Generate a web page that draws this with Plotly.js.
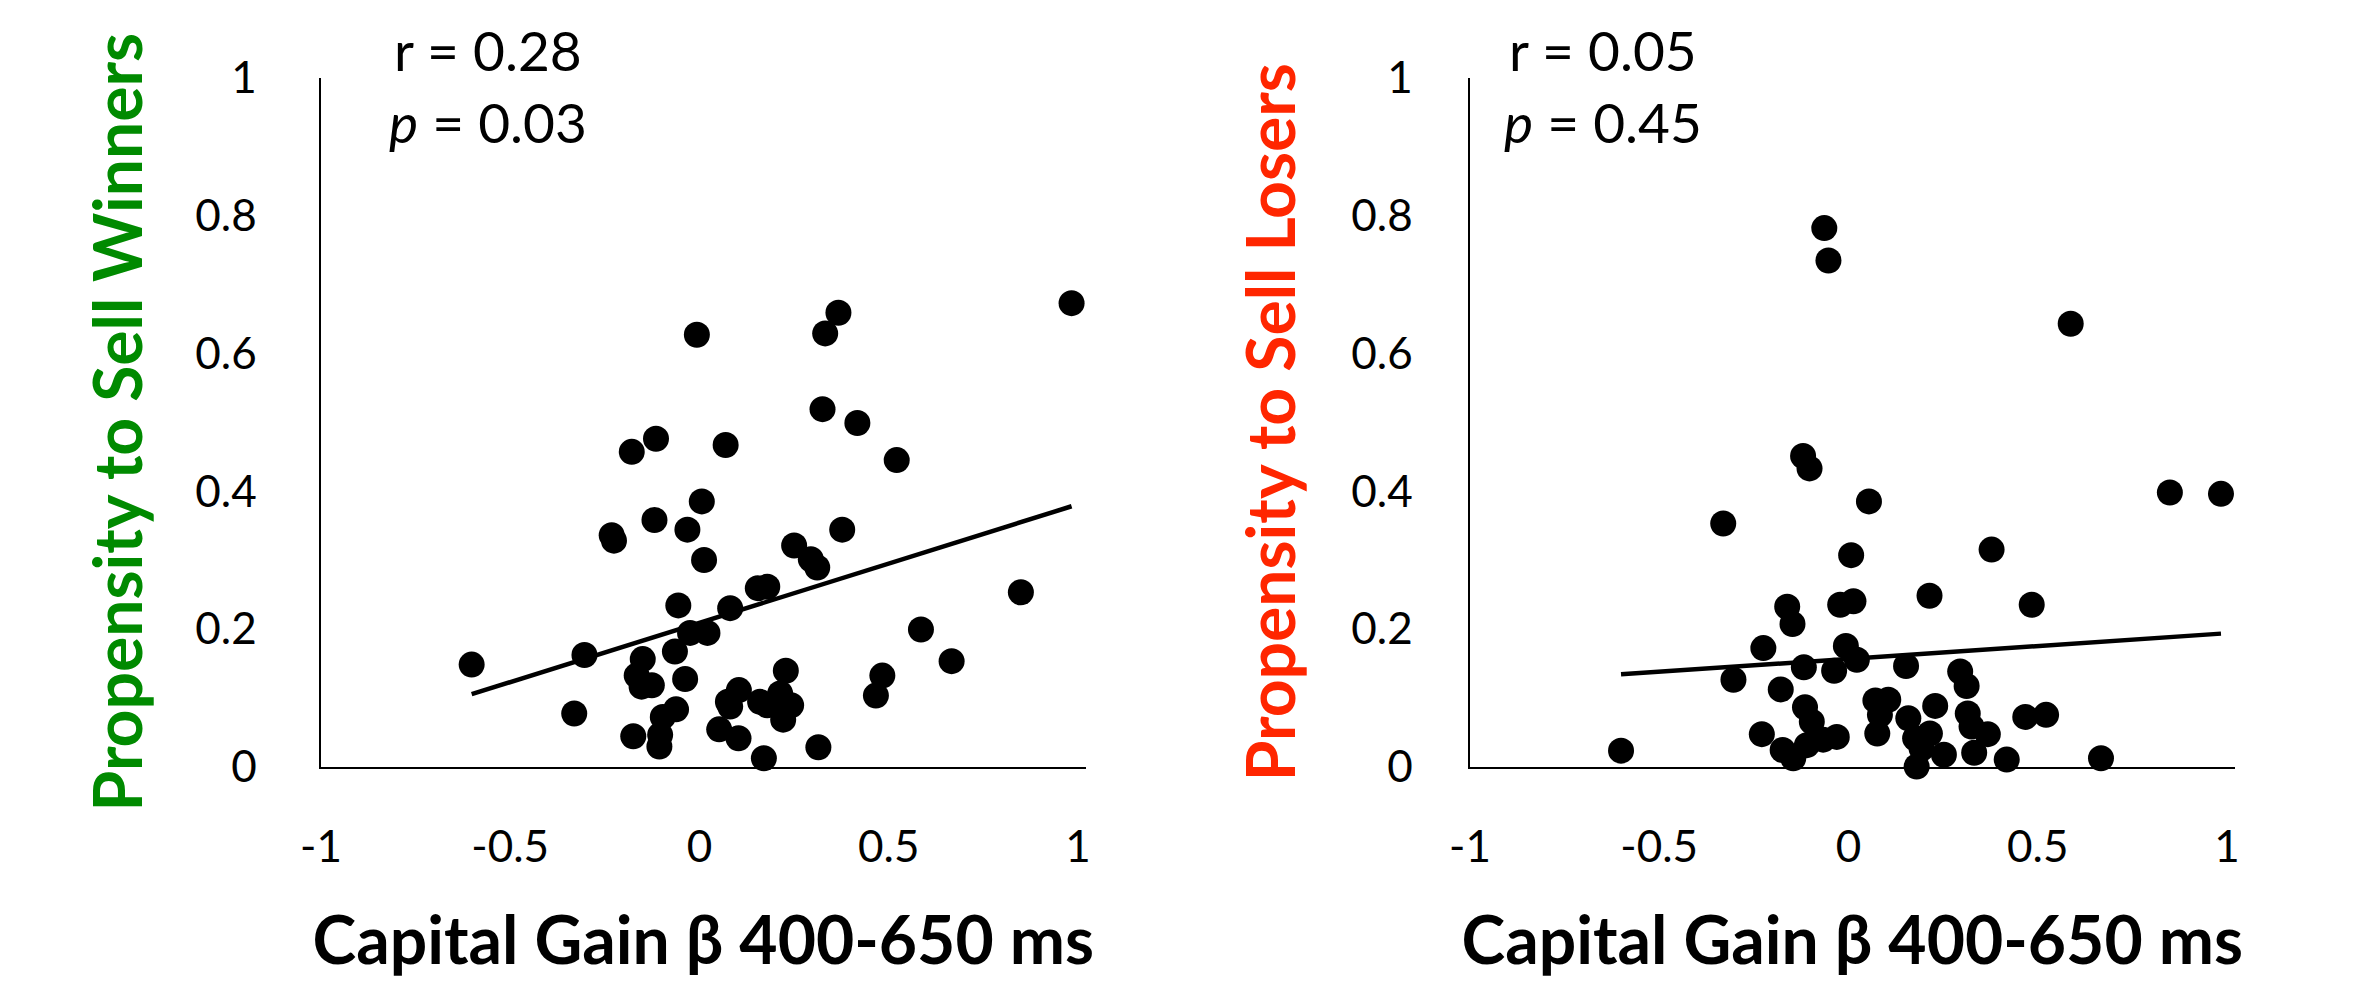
<!DOCTYPE html>
<html><head><meta charset="utf-8">
<script src="https://cdn.plot.ly/plotly-3.0.1.min.js"></script>
<style>html,body{margin:0;padding:0;background:#fff;} #chart{width:2356px;height:991px;}</style>
</head><body><div id="chart"></div>
<script>
// ---- data ----
const winnersX = [-0.007, 0.367, 0.332, 0.983, 0.325, 0.417, 0.069, 0.521, -0.115, -0.179,
  0.006, -0.119, -0.032, -0.232, -0.226, 0.012, 0.377, 0.250, 0.294, 0.311,
  0.154, 0.179, 0.081, 0.849, -0.056, -0.025, 0.021, -0.065, 0.585, 0.666,
  -0.304, -0.602, -0.150, -0.166, -0.126, -0.153, -0.038, -0.331, -0.062, -0.097,
  -0.175, -0.104, -0.106, 0.228, 0.483, 0.466, 0.104, 0.075, 0.081, 0.160,
  0.179, 0.213, 0.242, 0.221, 0.052, 0.103, 0.170, 0.314];
const winnersY = [0.627, 0.659, 0.629, 0.673, 0.519, 0.499, 0.467, 0.445, 0.476, 0.457,
  0.385, 0.358, 0.344, 0.336, 0.328, 0.300, 0.344, 0.321, 0.301, 0.289,
  0.259, 0.261, 0.230, 0.253, 0.234, 0.194, 0.194, 0.167, 0.199, 0.153,
  0.162, 0.148, 0.156, 0.132, 0.118, 0.116, 0.127, 0.077, 0.083, 0.072,
  0.044, 0.046, 0.029, 0.139, 0.132, 0.103, 0.111, 0.094, 0.087, 0.094,
  0.089, 0.106, 0.089, 0.068, 0.054, 0.041, 0.012, 0.028];

const losersX = [-0.064, -0.053, 0.587, -0.120, -0.103, -0.331, 0.054, 0.007, 0.378, 0.849,
  0.984, 0.214, 0.484, -0.162, -0.148, -0.022, 0.013, -0.225, -0.007, 0.022,
  -0.118, -0.038, -0.304, -0.179, 0.152, 0.295, 0.312, -0.115, -0.097, 0.071,
  0.105, 0.083, 0.229, 0.158, 0.315, 0.325, 0.368, 0.467, 0.522, 0.076,
  -0.031, -0.067, -0.110, -0.229, -0.174, -0.146, -0.601, 0.176, 0.215, 0.193,
  0.252, 0.180, 0.332, 0.418, 0.667];
const losersY = [0.782, 0.735, 0.643, 0.451, 0.433, 0.353, 0.385, 0.307, 0.315, 0.398,
  0.396, 0.248, 0.235, 0.232, 0.207, 0.235, 0.240, 0.172, 0.175, 0.155,
  0.144, 0.139, 0.126, 0.112, 0.146, 0.138, 0.117, 0.086, 0.065, 0.096,
  0.097, 0.075, 0.088, 0.070, 0.077, 0.058, 0.047, 0.072, 0.075, 0.048,
  0.043, 0.039, 0.031, 0.047, 0.024, 0.012, 0.023, 0.041, 0.048, 0.026,
  0.017, 0.000, 0.020, 0.010, 0.012];

// regression fits: [intercept, slope]
const winnersFit = [0.2087, 0.1722];
const losersFit = [0.1563, 0.0373];

const xTickVals = [-1, -0.5, 0, 0.5, 1];
const xTickText = ['-1', '-0.5', '0', '0.5', '1'];
const yTickVals = [0, 0.2, 0.4, 0.6, 0.8, 1];
const yTickText = ['0', '0.2', '0.4', '0.6', '0.8', '1'];

const xTitle = 'Capital Gain β 400-650 ms';
const yTitleWinners = 'Propensity to Sell Winners';
const yTitleLosers = 'Propensity to Sell Losers';
const statsWinners = ['r = 0.28', '<i>p</i> = 0.03'];
const statsLosers = ['r = 0.05', '<i>p</i> = 0.45'];

// ---- build ----
function fitLine(xs, fit) {
  const lo = Math.min(...xs), hi = Math.max(...xs);
  return {x: [lo, hi], y: [fit[0] + fit[1] * lo, fit[0] + fit[1] * hi]};
}
const fW = fitLine(winnersX, winnersFit);
const fL = fitLine(losersX, losersFit);

const markerStyle = {color: '#000', size: 26, line: {width: 0}};
const traces = [
  {type: 'scatter', mode: 'lines', x: fW.x, y: fW.y, xaxis: 'x', yaxis: 'y',
   line: {color: '#000', width: 4.5}, hoverinfo: 'skip', cliponaxis: false},
  {type: 'scatter', mode: 'markers', x: winnersX, y: winnersY, xaxis: 'x', yaxis: 'y',
   marker: markerStyle, cliponaxis: false},
  {type: 'scatter', mode: 'lines', x: fL.x, y: fL.y, xaxis: 'x2', yaxis: 'y2',
   line: {color: '#000', width: 4.5}, hoverinfo: 'skip', cliponaxis: false},
  {type: 'scatter', mode: 'markers', x: losersX, y: losersY, xaxis: 'x2', yaxis: 'y2',
   marker: markerStyle, cliponaxis: false}
];

const W = 2356, H = 991;
const tickFont = {family: 'Lato, sans-serif', size: 44, color: '#000'};
const titleFontBase = {family: 'Lato, sans-serif', size: 66, weight: 700};
const statFont = {family: 'Lato, sans-serif', size: 55, color: '#000'};

function xAxis(domain, anchor) {
  return {
    domain: domain, anchor: anchor, range: [-1, 1.02],
    tickmode: 'array', tickvals: xTickVals, ticktext: xTickText,
    showgrid: false, zeroline: false, showline: true, linecolor: '#000', linewidth: 2.5,
    ticks: 'outside', ticklen: 40, tickcolor: 'rgba(0,0,0,0)', tickfont: tickFont,
    title: {text: xTitle, font: Object.assign({color: '#000'}, titleFontBase), standoff: 48},
    fixedrange: true
  };
}
function yAxis(domain, anchor, title, color, ticklen, standoff) {
  return {
    domain: domain, anchor: anchor, range: [0, 1.0],
    tickmode: 'array', tickvals: yTickVals, ticktext: yTickText,
    showgrid: false, zeroline: false, showline: true, linecolor: '#000', linewidth: 2.5,
    ticks: 'outside', ticklen: ticklen, tickcolor: 'rgba(0,0,0,0)', tickfont: tickFont,
    title: {text: title, font: Object.assign({color: color}, titleFontBase), standoff: standoff},
    fixedrange: true
  };
}

const yDom = [224.5 / H, 913 / H];
function stat(x, yMid, lines) {
  return {xref: 'paper', yref: 'paper', x: x / W, y: (H - yMid) / H, text: lines.join('<br>'),
          showarrow: false, xanchor: 'center', yanchor: 'middle', align: 'center', font: statFont};
}
const layout = {
  width: W, height: H,
  margin: {l: 0, r: 0, t: 0, b: 0},
  paper_bgcolor: '#fff', plot_bgcolor: '#fff',
  showlegend: false,
  xaxis: xAxis([321 / W, 1085.6 / W], 'y'),
  yaxis: yAxis(yDom, 'x', yTitleWinners, '#008a00', 53, 31),
  xaxis2: xAxis([1470 / W, 2234.6 / W], 'y2'),
  yaxis2: yAxis(yDom, 'x2', yTitleLosers, '#ff2600', 46, 34),
  annotations: [
    stat(488, 86, statsWinners),
    stat(1602.5, 86, statsLosers)
  ]
};

Plotly.newPlot('chart', traces, layout, {displayModeBar: false, staticPlot: true});
</script>
</body></html>
